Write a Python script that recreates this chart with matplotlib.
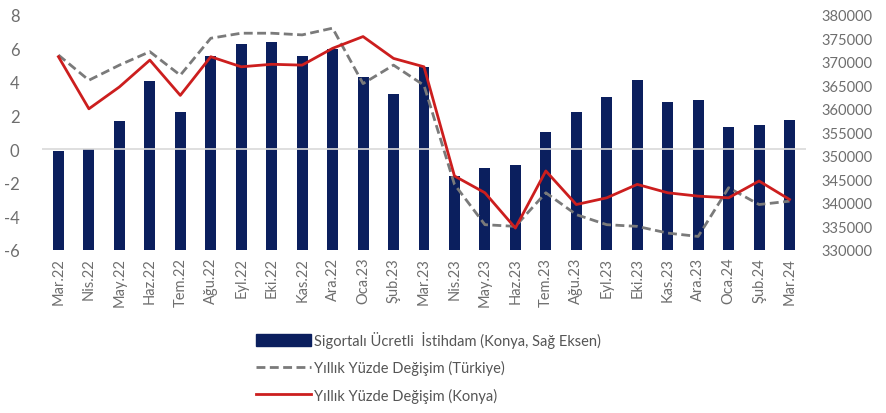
import matplotlib
matplotlib.use("Agg")
import matplotlib.pyplot as plt
from matplotlib.patches import Patch
from matplotlib.lines import Line2D
import numpy as np

plt.rcParams["font.family"] = ["Lato", "DejaVu Sans"]
plt.rcParams["axes.unicode_minus"] = False

months = ["Mar.22", "Nis.22", "May.22", "Haz.22", "Tem.22", "Ağu.22", "Eyl.22",
          "Eki.22", "Kas.22", "Ara.22", "Oca.23", "Şub.23", "Mar.23", "Nis.23",
          "May.23", "Haz.23", "Tem.23", "Ağu.23", "Eyl.23", "Eki.23", "Kas.23",
          "Ara.23", "Oca.24", "Şub.24", "Mar.24"]

employment_konya = [351100, 351500, 357400, 366000, 359400, 371300, 373800,
                    374200, 371300, 372800, 366800, 363200, 368900, 345700,
                    347400, 348100, 355100, 359400, 362600, 366200, 361500,
                    361900, 356200, 356600, 357700]

change_turkiye = [5.6, 4.1, 5.0, 5.8, 4.4, 6.6, 6.9, 6.9, 6.8, 7.2, 3.9, 5.0,
                  3.8, -2.1, -4.5, -4.6, -2.6, -3.9, -4.5, -4.6, -5.0, -5.2,
                  -2.3, -3.3, -3.1]

change_konya = [5.5, 2.4, 3.7, 5.3, 3.2, 5.5, 4.9, 5.05, 5.0, 6.0, 6.7, 5.4,
                4.9, -1.6, -2.6, -4.7, -1.3, -3.3, -2.9, -2.1, -2.6, -2.8,
                -2.9, -1.9, -3.0]

left_ticks = [-6, -4, -2, 0, 2, 4, 6, 8]
right_ticks = list(range(330000, 380001, 5000))

navy = "#0b1f5e"
red = "#cc1e1e"
gray = "#7a7a7a"
tick_color = "#6e6e6e"

fig = plt.figure(figsize=(8.87, 4.14), dpi=100)
ax = fig.add_axes([0.047, 0.394, 0.862, 0.568])
ax2 = ax.twinx()

x = np.arange(len(months))

ax2.bar(x, np.array(employment_konya) - 330000, bottom=330000, width=0.36,
        color=navy, zorder=2)
ax2.set_ylim(330000, 380000)
ax2.set_yticks(right_ticks)
ax2.set_yticklabels([str(v) for v in right_ticks])

ax.axhline(0, color="#d9d9d9", lw=1.2, zorder=1)
ax.plot(x, change_turkiye, color=gray, lw=2.0, ls=(0, (3.2, 1.6)), zorder=3)
ax.plot(x, change_konya, color=red, lw=2.0, zorder=4)
ax.set_ylim(-6, 8)
ax.set_yticks(left_ticks)
ax.set_xlim(-0.55, len(months) - 0.45)
ax.set_xticks(x)
ax.set_xticklabels(months, rotation=90)

ax.set_zorder(ax2.get_zorder() + 1)
ax.patch.set_visible(False)

for a in (ax, ax2):
    for s in a.spines.values():
        s.set_visible(False)
    a.tick_params(length=0, colors=tick_color)

ax.tick_params(axis="y", labelsize=12, pad=16)
ax.tick_params(axis="x", labelsize=10.5, pad=5)
ax2.tick_params(axis="y", labelsize=10.5, pad=11)

handles = [
    Patch(facecolor=navy, edgecolor=navy),
    Line2D([], [], color=gray, lw=2.0, ls=(0, (3.2, 1.6))),
    Line2D([], [], color=red, lw=2.0),
]
labels = [
    "Sigortalı Ücretli  İstihdam (Konya, Sağ Eksen)",
    "Yıllık Yüzde Değişim (Türkiye)",
    "Yıllık Yüzde Değişim (Konya)",
]
leg = fig.legend(handles, labels, loc="upper left", bbox_to_anchor=(0.282, 0.213),
                 frameon=False, fontsize=10.5, handlelength=3.8, handleheight=0.9,
                 handletextpad=0.2, labelspacing=0.85, borderaxespad=0)
for t in leg.get_texts():
    t.set_color("#555555")

fig.savefig("out.png", dpi=100, facecolor="white")
